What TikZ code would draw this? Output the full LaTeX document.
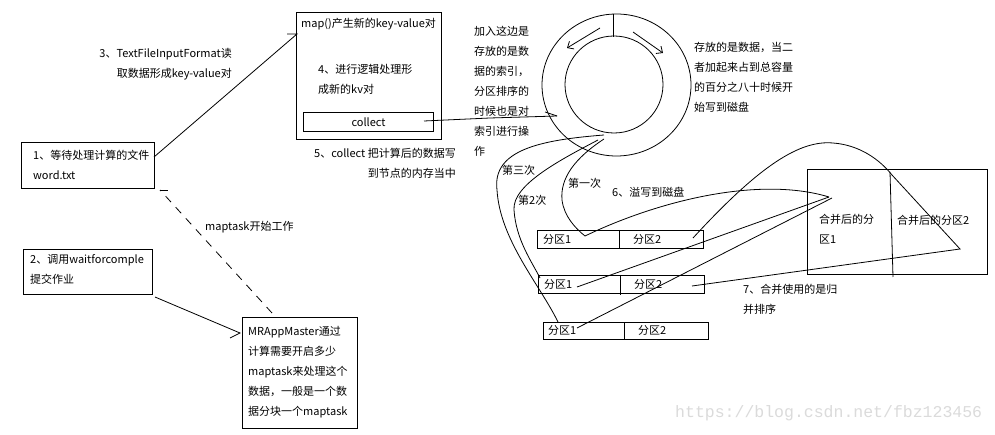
\documentclass[tikz,border=0pt]{standalone}
\usepackage{fontspec}
\setmainfont{Noto Sans CJK SC}
\newfontfamily\wmfont{Liberation Mono}
\usetikzlibrary{arrows.meta}
\begin{document}
\begin{tikzpicture}[x=1pt,y=-1pt,
  ln/.style={line width=0.8pt, black},
  boxs/.style={draw, line width=1pt, inner sep=0, anchor=north west},
  txt/.style={font=\fontsize{11}{20}\selectfont, align=left, inner sep=0, anchor=north west},
  txr/.style={font=\fontsize{11}{20}\selectfont, align=right, inner sep=0, anchor=north east},
  lbl/.style={font=\fontsize{11}{13}\selectfont, inner sep=0, anchor=west},
  barb/.style={-{Straight Barb[length=5pt,width=9pt]}},
]
\fill[white] (0,0) rectangle (995,435);
\useasboundingbox (0,0) rectangle (995,435);

% ---------- boxes ----------
\node[boxs, minimum width=133, minimum height=46] (b1) at (21,142) {};
\node[boxs, minimum width=129, minimum height=45] (b2) at (23,249) {};
\node[boxs, minimum width=115, minimum height=111] (b3) at (242,317) {};
\node[boxs, minimum width=145, minimum height=127] (mp) at (296,12) {};
\node[boxs, minimum width=130, minimum height=19, font=\fontsize{11}{13}\selectfont] (cl) at (303,112) {collect};

% partition boxes
\node[boxs, minimum width=166, minimum height=18] (p1) at (537,230) {};
\node[boxs, minimum width=166, minimum height=18] (p2) at (538,275) {};
\node[boxs, minimum width=165, minimum height=17] (p3) at (543,322) {};
\draw[ln] (619,230) -- (619,249);
\draw[ln] (620,275) -- (620,295);
\draw[ln] (624,322) -- (624,340);
\node[lbl] (p1a) at (543,239) {分区1};
\node[lbl] (p1b) at (633,239) {分区2};
\node[lbl] (p2a) at (544,284) {分区1};
\node[lbl] (p2b) at (634,284) {分区2};
\node[lbl] (p3a) at (548,330) {分区1};
\node[lbl] (p3b) at (638,330) {分区2};

% merged box
\node[boxs, minimum width=180, minimum height=105] (mg) at (807,169) {};
\draw[ln] (890,172) -- (893,277);
\node[txt] (mga) at (819,214) {合并后的分\\区1};
\node[lbl] (mgb) at (897,220) {合并后的分区2};

% ---------- texts ----------
\node[txt] (t1) at (33,150) {1、等待处理计算的文件\\word.txt};
\node[txt] (t2) at (30,254) {2、调用waitforcomple\\提交作业};
\node[txt] (t3) at (248,326) {MRAppMaster通过\\计算需要开启多少\\maptask来处理这个\\数据，一般是一个数\\据分块一个maptask};
\node[txr] (t4) at (232,48) {3、TextFileInputFormat读\\取数据形成key-value对};
\node[lbl] (t5) at (301,24) {map()产生新的key-value对};
\node[txt] (t6) at (318,64) {4、进行逻辑处理形\\成新的kv对};
\node[lbl] (t7) at (314,153) {5、collect 把计算后的数据写};
\node[lbl, anchor=east] (t8) at (456,173) {到节点的内存当中};
\node[txt] (t9) at (474,26) {加入这边是\\存放的是数\\据的索引，\\分区排序的\\时候也是对\\索引进行操\\作};
\node[txt] (t10) at (694,42) {存放的是数据，当二\\者加起来占到总容量\\的百分之八十时候开\\始写到磁盘};
\node[lbl] (t11) at (205,227) {maptask开始工作};
\node[lbl] (t12) at (502,170) {第三次};
\node[lbl] (t13) at (518,200) {第2次};
\node[lbl] (t14) at (568,183) {第一次};
\node[lbl] (t15) at (612,192) {6、溢写到磁盘};
\node[txt] (t16) at (743,284) {7、合并使用的是归\\并排序};

% ---------- ring ----------
\coordinate (rc) at (616.5,85);
\draw[ln] (rc) ellipse [x radius=74.5, y radius=71];
\draw[ln] (614,84.5) ellipse [x radius=49, y radius=48.5];
\draw[ln] (613,14) -- (613,37);
\draw[ln, barb] (600,28) -- (567,48);
\draw[ln, barb] (633,32) -- (663,53);

% ---------- connectors ----------
% word.txt -> map
\coordinate (m1) at (297,34);
\draw[ln] (154,157) -- (m1) -- ++(-10,0);
% waitforcomple -> MRAppMaster
\coordinate (m2) at (240,333);
\draw[ln] (155,297) -- (m2) -- ++(-10,5);
% maptask start (dashed)
\coordinate (m3) at (160,190);
\draw[ln, dash pattern=on 8pt off 7pt] (272,313) -- (m3);
\draw[ln] (m3) -- ++(8,0);
% collect -> ring
\coordinate (r1) at (557,116);
\draw[ln] (424,121) -- (490,118) -- (r1);
\draw[ln] (r1) -- ++(-12,-4);

% spills
\coordinate (s3) at (558,322);
\coordinate (s2) at (540,278);
\coordinate (s1) at (585,236);
\draw[ln] (604,135) .. controls (540,140) and (492,150) .. (497,190) .. controls (500,240) and (540,285) .. (s3);
\draw[ln] (598,140) .. controls (560,160) and (512,185) .. (514,210) .. controls (516,240) and (532,262) .. (s2);
\draw[ln] (604,139) .. controls (575,158) and (560,178) .. (562,200) .. controls (564,216) and (575,228) .. (s1);

% merge lines
\coordinate (mm) at (829,197);
\draw[ln] (s1) .. controls (660,200) and (760,176) .. (mm);
\draw[ln] (577,287) -- (mm);
\draw[ln] (577,328) -- (832,198);
\coordinate (tip) at (960,249);
\draw[ln] (693,238) .. controls (760,165) and (800,140) .. (833,143) .. controls (860,145) and (880,160) .. (892,175) -- (tip) -- (692,286);

% watermark
\node[font=\wmfont\fontsize{16.5}{18}\selectfont, text=black!14, anchor=west, inner sep=0] (wm) at (675,413) {https://blog.csdn.net/fbz123456};
\end{tikzpicture}
\end{document}
